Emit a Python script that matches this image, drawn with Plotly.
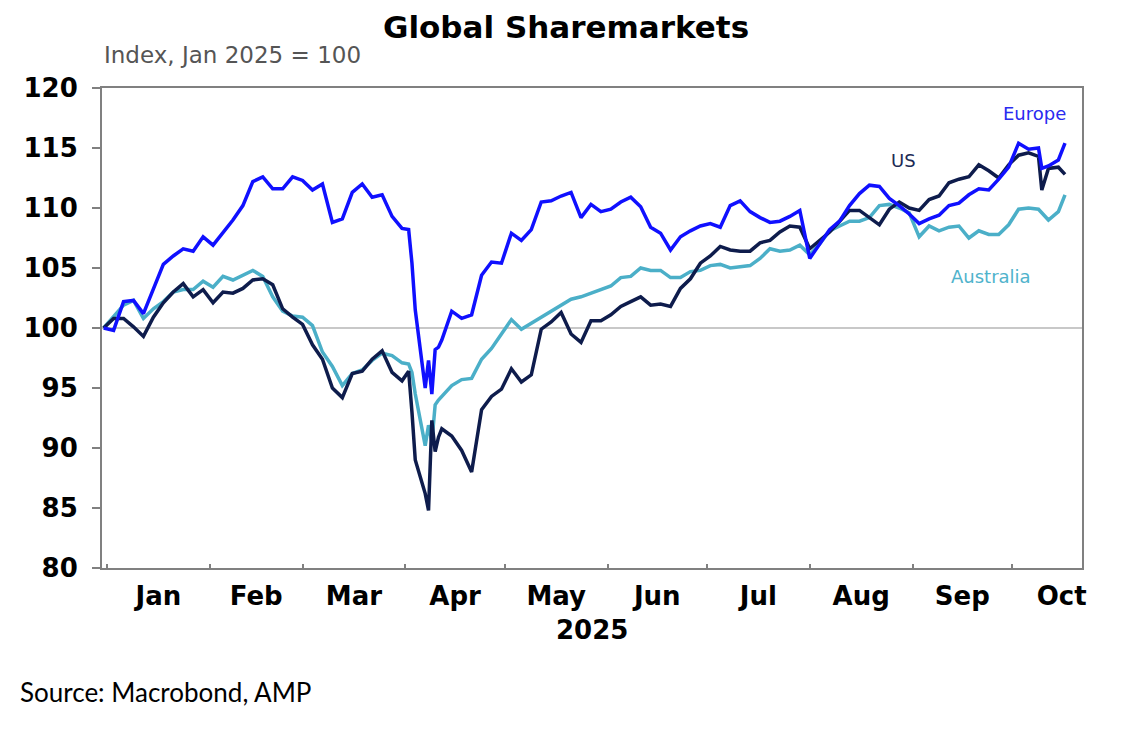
import plotly.graph_objs as go

# dates (roughly every 3 days, daily around the April sell-off)
dates = [
    '2024-12-31', '2025-01-03', '2025-01-06', '2025-01-09', '2025-01-12', '2025-01-15',
    '2025-01-18', '2025-01-21', '2025-01-24', '2025-01-27', '2025-01-30', '2025-02-02',
    '2025-02-05', '2025-02-08', '2025-02-11', '2025-02-14', '2025-02-17', '2025-02-20',
    '2025-02-23', '2025-02-26', '2025-03-01', '2025-03-04', '2025-03-07', '2025-03-10',
    '2025-03-13', '2025-03-16', '2025-03-19', '2025-03-22', '2025-03-25', '2025-03-28',
    '2025-03-31', '2025-04-02', '2025-04-03', '2025-04-04', '2025-04-07', '2025-04-08',
    '2025-04-09', '2025-04-10', '2025-04-11', '2025-04-12', '2025-04-15', '2025-04-18',
    '2025-04-21', '2025-04-24', '2025-04-27', '2025-04-30', '2025-05-03', '2025-05-06',
    '2025-05-09', '2025-05-12', '2025-05-15', '2025-05-18', '2025-05-21', '2025-05-24',
    '2025-05-27', '2025-05-30', '2025-06-02', '2025-06-05', '2025-06-08', '2025-06-11',
    '2025-06-14', '2025-06-17', '2025-06-20', '2025-06-23', '2025-06-26', '2025-06-29',
    '2025-07-02', '2025-07-05', '2025-07-08', '2025-07-11', '2025-07-14', '2025-07-17',
    '2025-07-20', '2025-07-23', '2025-07-26', '2025-07-29', '2025-08-01', '2025-08-04',
    '2025-08-07', '2025-08-10', '2025-08-13', '2025-08-16', '2025-08-19', '2025-08-22',
    '2025-08-25', '2025-08-28', '2025-08-31', '2025-09-03', '2025-09-06', '2025-09-09',
    '2025-09-12', '2025-09-15', '2025-09-18', '2025-09-21', '2025-09-24', '2025-09-27',
    '2025-09-30', '2025-10-03', '2025-10-06', '2025-10-09', '2025-10-10', '2025-10-12',
    '2025-10-15', '2025-10-17',
]

europe = [
    100.0, 99.8, 102.2, 102.3, 101.2, 103.2, 105.3, 106.0, 106.6, 106.4, 107.6, 106.9,
    107.9, 109.0, 110.2, 112.2, 112.6, 111.6, 111.6, 112.6, 112.3, 111.5, 112.0, 108.8,
    109.1, 111.3, 112.0, 110.9, 111.1, 109.3, 108.3, 108.2, 105.4, 101.5, 95.0, 97.3,
    94.5, 98.2, 98.4, 99.0, 101.4, 100.8, 101.1, 104.4, 105.5, 105.4, 107.9, 107.3,
    108.2, 110.5, 110.6, 111.0, 111.3, 109.2, 110.3, 109.7, 109.9, 110.5, 110.9, 110.1,
    108.4, 107.9, 106.5, 107.6, 108.1, 108.5, 108.7, 108.4, 110.2, 110.6, 109.7, 109.2,
    108.8, 108.9, 109.3, 109.8, 105.8, 107.0, 108.2, 108.9, 110.2, 111.2, 111.9, 111.8,
    110.8, 110.2, 109.5, 108.7, 109.1, 109.4, 110.2, 110.4, 111.1, 111.6, 111.5, 112.4,
    113.4, 115.4, 114.9, 115.0, 113.3, 113.5, 114.0, 115.4,
]

us = [
    100.0, 100.8, 100.8, 100.1, 99.3, 100.9, 102.1, 103.0, 103.7, 102.6, 103.2, 102.1,
    103.0, 102.9, 103.3, 104.0, 104.1, 103.6, 101.6, 100.9, 100.3, 98.6, 97.4, 95.0,
    94.2, 96.2, 96.4, 97.4, 98.1, 96.3, 95.6, 96.4, 93.0, 89.0, 86.2, 84.8,
    92.3, 89.7, 90.9, 91.6, 91.0, 89.8, 88.0, 93.2, 94.3, 94.9, 96.6, 95.5,
    96.1, 99.9, 100.5, 101.3, 99.5, 98.8, 100.6, 100.6, 101.1, 101.8, 102.2, 102.6,
    101.9, 102.0, 101.8, 103.3, 104.1, 105.4, 106.0, 106.8, 106.5, 106.4, 106.4, 107.1,
    107.3, 108.0, 108.5, 108.4, 106.6, 107.3, 108.0, 108.9, 109.8, 109.8, 109.2, 108.6,
    109.9, 110.5, 110.0, 109.8, 110.7, 111.0, 112.1, 112.4, 112.6, 113.6, 113.1, 112.5,
    113.6, 114.4, 114.6, 114.3, 111.5, 113.3, 113.4, 112.8,
]

australia = [
    100.0, 100.9, 101.9, 102.3, 100.8, 101.6, 102.2, 103.0, 103.2, 103.2, 103.9, 103.4,
    104.3, 104.0, 104.4, 104.8, 104.3, 102.6, 101.4, 101.0, 100.9, 100.2, 98.0, 96.8,
    95.2, 96.2, 96.5, 97.3, 97.9, 97.7, 97.1, 97.0, 96.3, 94.5, 90.2, 91.9,
    90.5, 93.6, 94.0, 94.3, 95.2, 95.7, 95.8, 97.4, 98.3, 99.5, 100.7, 99.9,
    100.4, 100.9, 101.4, 101.9, 102.4, 102.6, 102.9, 103.2, 103.5, 104.2, 104.3, 105.0,
    104.8, 104.8, 104.2, 104.2, 104.7, 104.8, 105.2, 105.3, 105.0, 105.1, 105.2, 105.8,
    106.6, 106.4, 106.5, 106.9, 106.1, 107.0, 108.1, 108.5, 108.9, 108.9, 109.2, 110.2,
    110.3, 110.0, 109.6, 107.6, 108.5, 108.1, 108.4, 108.5, 107.5, 108.1, 107.8, 107.8,
    108.6, 109.9, 110.0, 109.9, 109.6, 109.0, 109.7, 111.1,
]

BOLD_FONT = 'DejaVu Sans, sans-serif'
AXIS_GREY = '#808080'

fig = go.Figure()
fig.add_trace(go.Scatter(x=dates, y=australia, mode='lines', name='Australia',
                         line=dict(color='#4bafc8', width=3.5)))
fig.add_trace(go.Scatter(x=dates, y=us, mode='lines', name='US',
                         line=dict(color='#0e1c4c', width=3.5)))
fig.add_trace(go.Scatter(x=dates, y=europe, mode='lines', name='Europe',
                         line=dict(color='#1010ff', width=3.5)))

# reference line at 100
fig.add_shape(type='line', xref='paper', x0=0, x1=1, yref='y', y0=100, y1=100,
              line=dict(color='#c8c8c8', width=2), layer='below')

# page body has an 8px margin, so the figure is a bit smaller than the window
fig.update_layout(
    width=1119, height=723,
    margin=dict(l=94, r=45, t=80, b=163),
    paper_bgcolor='white', plot_bgcolor='white',
    showlegend=False,
    font=dict(family=BOLD_FONT, color='black'),
    xaxis=dict(
        range=['2024-12-30 12:00', '2025-10-22 03:00'],
        dtick='M1', tick0='2025-01-01', ticklabelmode='period', tickformat='%b',
        ticks='inside', ticklen=4, tickcolor=AXIS_GREY, tickwidth=1.5,
        tickfont=dict(size=26, weight='bold', color='black', family=BOLD_FONT),
        ticklabelstandoff=4,
        showline=True, linecolor=AXIS_GREY, linewidth=2, mirror=True,
        showgrid=False, zeroline=False,
    ),
    yaxis=dict(
        range=[80, 120], dtick=5,
        ticks='outside', ticklen=8, tickcolor=AXIS_GREY, tickwidth=1.5,
        tickfont=dict(size=26, weight='bold', color='black', family=BOLD_FONT),
        ticksuffix='\u00a0',
        showline=True, linecolor=AXIS_GREY, linewidth=2, mirror=True,
        showgrid=False, zeroline=False,
    ),
)

annotations = [
    dict(text='<b>Global Sharemarkets</b>', x=0.4735, y=1.127, font=dict(size=31, color='black'),
         xanchor='center', yanchor='middle'),
    dict(text='Index, Jan 2025 = 100', x=0.0, y=1.069, font=dict(size=23, color='#555555'),
         xanchor='left', yanchor='middle'),
    dict(text='<b>2025</b>', x=0.5, y=-0.129, font=dict(size=26, color='black'),
         xanchor='center', yanchor='middle'),
    dict(text='Europe', x=0.952, y=0.946, font=dict(size=18, color='#2a2af0'),
         xanchor='center', yanchor='middle'),
    dict(text='US', x=0.818, y=0.848, font=dict(size=18, color='#1c2a55'),
         xanchor='center', yanchor='middle'),
    dict(text='Australia', x=0.907, y=0.608, font=dict(size=18, color='#4fb3cc'),
         xanchor='center', yanchor='middle'),
    dict(text='Source: Macrobond, AMP', x=-0.0857, y=-0.258,
         font=dict(size=26, color='black', family='Lato, Open Sans, sans-serif'),
         xanchor='left', yanchor='middle'),
]
for a in annotations:
    fig.add_annotation(xref='paper', yref='paper', showarrow=False, **a)

fig.write_html("out.html")
